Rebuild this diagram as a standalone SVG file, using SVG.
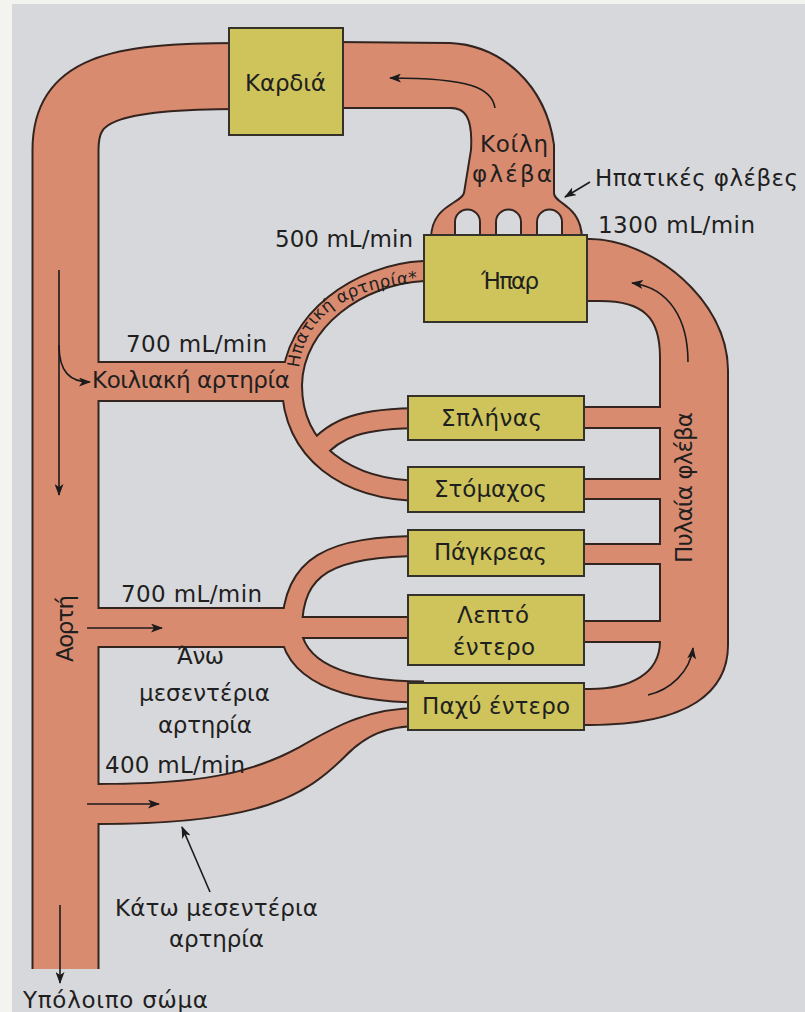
<svg xmlns="http://www.w3.org/2000/svg" width="805" height="1012" viewBox="0 0 805 1012">
<style>
.t{font-family:"DejaVu Sans","Noto Sans",sans-serif;font-size:23px;fill:#1f1f1f}
.ts{font-size:17px}
.box{fill:#cec45b;stroke:#34322a;stroke-width:2}
.ol{stroke:#33241f}
.fl{stroke:#d98b70}
.arr{fill:none;stroke:#1b1b1b;stroke-width:1.6}
.hole{fill:#d7d8db;stroke:#33241f;stroke-width:2}
</style>
<defs>
<marker id="ah" viewBox="0 0 12 9" refX="11" refY="4.5" markerWidth="12" markerHeight="9" markerUnits="userSpaceOnUse" orient="auto"><path d="M0,0 L12,4.5 L0,9 L3,4.5 Z" fill="#1b1b1b"/></marker>
<path id="p-aorta" fill="none" d="M65.5,969 L65.5,150 C65.5,90 110,76 240,76"/>
<path id="p-celiac" fill="none" d="M60,381.5 H293"/>
<path id="p-hep" fill="none" d="M424,271 C360,274 293,320 292,385 C292,450 345,491 424,491"/>
<path id="p-spl" fill="none" d="M315,452 C335,428 360,418 424,418"/>
<path id="p-sma" fill="none" d="M60,627.5 H290"/>
<path id="p-smi" fill="none" d="M285,627.5 H424"/>
<path id="p-pan" fill="none" d="M292,630 C292,565 330,546 424,546"/>
<path id="p-li" fill="none" d="M290,625 C292,670 340,692 424,692"/>
<path id="p-ima" fill="#d98b70" d="M70,785 L98,785 C200,785 250,775 300,748 C340,725 370,709 420,709 L420,725 C385,725 365,735 345,755 C305,795 260,823 98,823 L70,823 Z"/>
<path id="p-vc" fill="#d98b70" d="M335,43 L450,44 C500,46 545,85 553,145 L553,193 C553,205 580,205 581,238 L432,238 C433,205 462,205 465,193 L472,150 C474,115 465,107 450,107 L335,107 Z"/>
<path id="p-portal" fill="#d98b70" d="M575,240 L590,240 C650,240 727,300 727,370 L727,645 C727,690 690,724 590,724 L575,724 L575,690 L590,690 C630,690 661,675 661,641 L661,357 C661,318 645,300 600,300 L575,300 Z"/>
<path id="p-veins" fill="#d98b70" d="M575,408 H672 V427 H575 Z M575,480 H672 V498 H575 Z M575,545 H672 V563 H575 Z M575,622 H672 V641 H575 Z"/>
<path id="p-hepline" d="M299,370 C303,314 353,285 424,283"/>
</defs>
<rect x="0" y="0" width="805" height="1012" fill="#d7d8db"/>
<rect x="0" y="0" width="12" height="1012" fill="#f3f3ef"/>
<rect x="0" y="0" width="805" height="4" fill="#f3f3ef"/>

<g id="connectors">
<g id="vessel-outline">
<use href="#p-aorta" class="ol" stroke-width="68"/>
<use href="#p-celiac" class="ol" stroke-width="41"/>
<use href="#p-hep" class="ol" stroke-width="22"/>
<use href="#p-spl" class="ol" stroke-width="22"/>
<use href="#p-sma" class="ol" stroke-width="41"/>
<use href="#p-smi" class="ol" stroke-width="23"/>
<use href="#p-pan" class="ol" stroke-width="22"/>
<use href="#p-li" class="ol" stroke-width="23"/>
<use href="#p-ima" class="ol" stroke-width="4"/>
<use href="#p-vc" class="ol" stroke-width="4"/>
<use href="#p-portal" class="ol" stroke-width="4"/>
<use href="#p-veins" class="ol" stroke-width="4"/>
</g>
<g id="vessel-fill">
<use href="#p-aorta" class="fl" stroke-width="64"/>
<use href="#p-celiac" class="fl" stroke-width="37"/>
<use href="#p-hep" class="fl" stroke-width="18"/>
<use href="#p-spl" class="fl" stroke-width="18"/>
<use href="#p-sma" class="fl" stroke-width="37"/>
<use href="#p-smi" class="fl" stroke-width="19"/>
<use href="#p-pan" class="fl" stroke-width="18"/>
<use href="#p-li" class="fl" stroke-width="19"/>
<use href="#p-ima"/>
<use href="#p-vc"/>
<use href="#p-portal"/>
<use href="#p-veins"/>
</g>
<g id="hepatic-veins">
<path class="hole" d="M455,238 V222 A12.5,12.5 0 0 1 480,222 V238 Z"/>
<path class="hole" d="M496,238 V222 A12.5,12.5 0 0 1 521,222 V238 Z"/>
<path class="hole" d="M537,238 V222 A12.5,12.5 0 0 1 562,222 V238 Z"/>
</g>
<g id="arrows">
<path class="arr" marker-end="url(#ah)" d="M495,108 C492,88 470,78 390,78"/>
<path class="arr" marker-end="url(#ah)" d="M590,182 L565,197"/>
<path class="arr" marker-end="url(#ah)" d="M59,270 V495"/>
<path class="arr" marker-end="url(#ah)" d="M59,345 C59,372 70,382 90,382"/>
<path class="arr" marker-end="url(#ah)" d="M87,628 H162"/>
<path class="arr" marker-end="url(#ah)" d="M87,804 H159"/>
<path class="arr" marker-end="url(#ah)" d="M210,892 L182,827"/>
<path class="arr" marker-end="url(#ah)" d="M60,905 V983"/>
<path class="arr" marker-end="url(#ah)" d="M688,362 C688,320 670,288 632,283"/>
<path class="arr" marker-end="url(#ah)" d="M648,695 C670,690 690,672 693,648"/>
</g>
</g>

<g id="heart"><rect class="box" x="229" y="28" width="114" height="107"/><text class="t" x="245" y="91" textLength="81">Καρδιά</text></g>
<g id="liver"><rect class="box" x="424" y="235" width="163" height="87"/><text class="t" x="481" y="289" textLength="58">Ήπαρ</text></g>
<g id="spleen"><rect class="box" x="408" y="396" width="176" height="44"/><text class="t" x="441" y="426" textLength="101">Σπλήνας</text></g>
<g id="stomach"><rect class="box" x="408" y="467" width="176" height="45"/><text class="t" x="434" y="497" textLength="113">Στόμαχος</text></g>
<g id="pancreas"><rect class="box" x="408" y="530" width="176" height="46"/><text class="t" x="434" y="560" textLength="113">Πάγκρεας</text></g>
<g id="small-intestine"><rect class="box" x="408" y="595" width="176" height="70"/><text class="t" x="457" y="623" textLength="72">Λεπτό</text><text class="t" x="453" y="655" textLength="82">έντερο</text></g>
<g id="large-intestine"><rect class="box" x="408" y="683" width="176" height="47"/><text class="t" x="422" y="714" textLength="148">Παχύ έντερο</text></g>

<g id="labels">
<text class="t" x="480" y="152" textLength="68">Κοίλη</text>
<text class="t" x="472" y="182" textLength="80">φλέβα</text>
<text class="t" x="595" y="186" textLength="203">Ηπατικές φλέβες</text>
<text class="t" x="598" y="233" textLength="157">1300 mL/min</text>
<text class="t" x="275" y="247" textLength="138">500 mL/min</text>
<text class="t ts"><textPath href="#p-hepline" startOffset="2" textLength="160">Ηπατική αρτηρία*</textPath></text>
<text class="t" x="126" y="352" textLength="141">700 mL/min</text>
<text class="t" x="92" y="388" textLength="198">Κοιλιακή αρτηρία</text>
<text class="t" x="121" y="602" textLength="141">700 mL/min</text>
<text class="t" transform="translate(73,662) rotate(-90)" x="0" y="0" textLength="67">Αορτή</text>
<text class="t" x="177" y="664" textLength="47">Άνω</text>
<text class="t" x="139" y="701" textLength="131">μεσεντέρια</text>
<text class="t" x="158" y="733" textLength="94">αρτηρία</text>
<text class="t" x="105" y="773" textLength="140">400 mL/min</text>
<text class="t" x="115" y="916" textLength="203">Κάτω μεσεντέρια</text>
<text class="t" x="169" y="947" textLength="95">αρτηρία</text>
<text class="t" x="23" y="1008" textLength="185">Υπόλοιπο σώμα</text>
<text class="t" transform="translate(692,563) rotate(-90)" x="0" y="0" textLength="151">Πυλαία φλέβα</text>
</g>
</svg>
